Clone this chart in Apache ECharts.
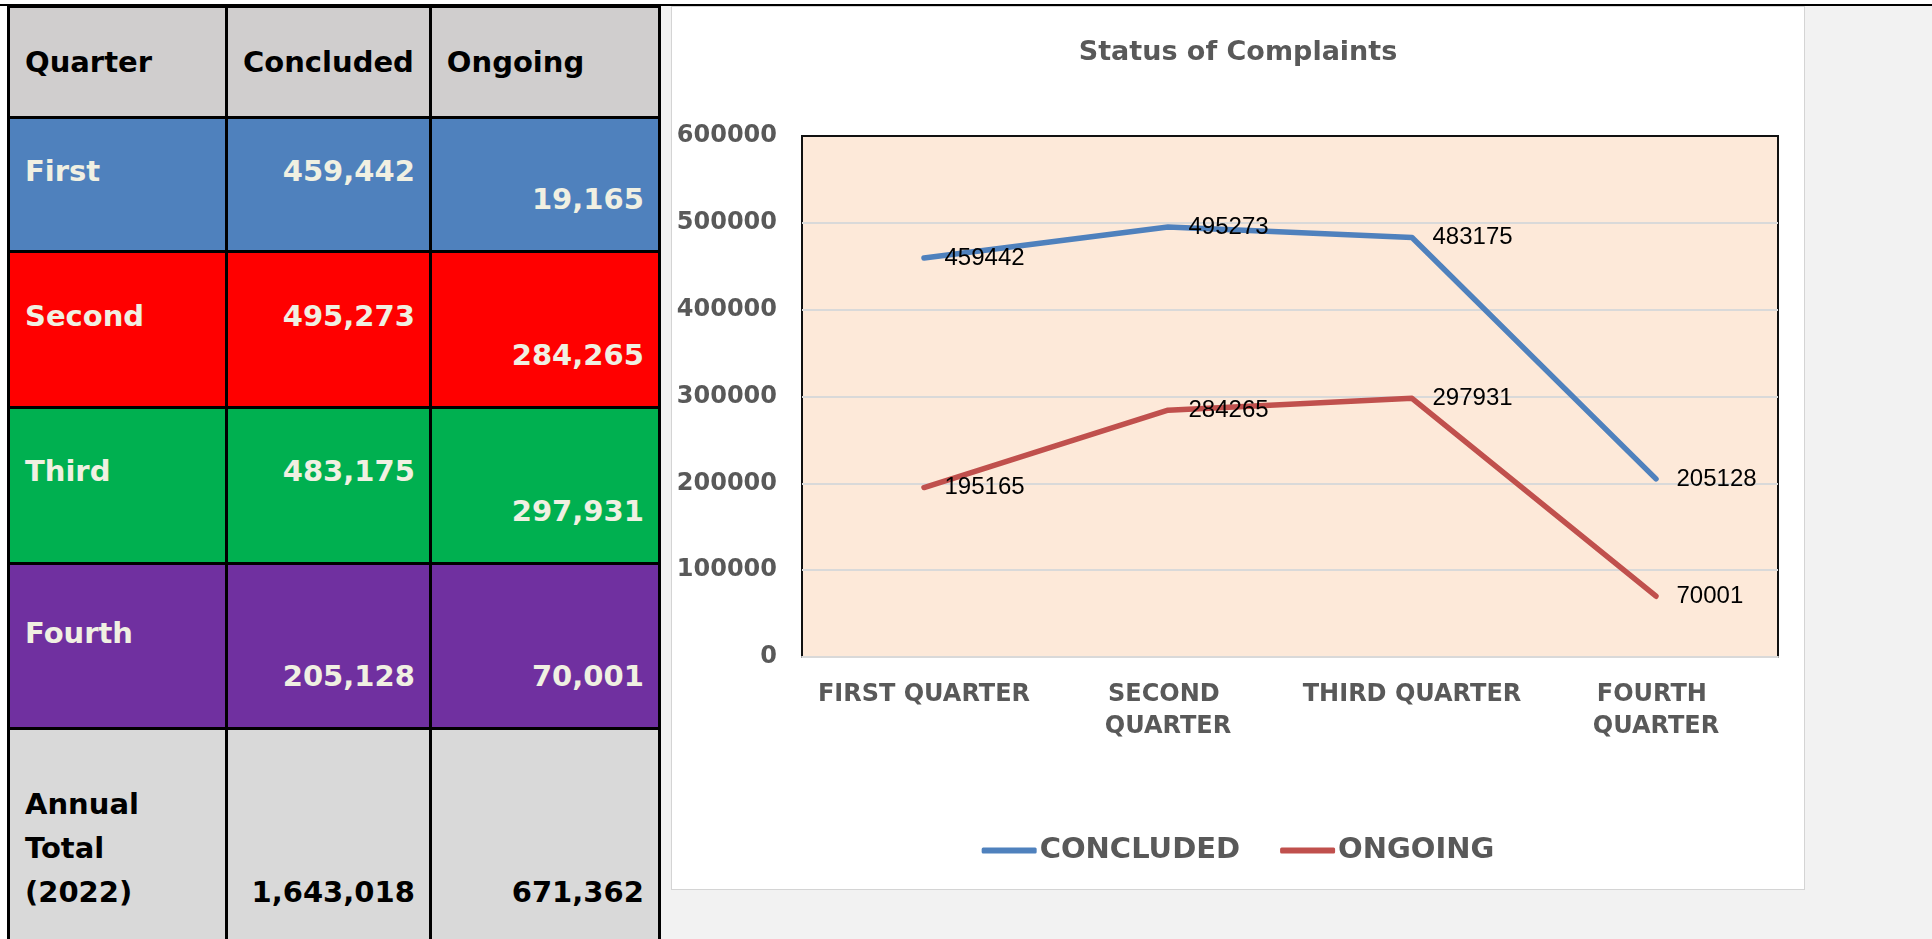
<!DOCTYPE html>
<html>
<head>
<meta charset="utf-8">
<script src="https://cdn.jsdelivr.net/npm/echarts@6/dist/echarts.min.js"></script>
<style>
  html, body { margin:0; padding:0; width:1932px; height:939px; overflow:hidden; background:#ffffff; }
  #grayBg { position:absolute; left:657px; top:5px; width:1275px; height:934px; background:#f2f2f2; }
  #topLine { position:absolute; left:0; top:4px; width:1932px; height:2px; background:#000; }
  #tbl { position:absolute; left:7px; top:5px; border-collapse:collapse; table-layout:fixed;
         font-family:'DejaVu Sans', Verdana, sans-serif; font-weight:bold; font-size:29px; }
  #tbl td { border:3px solid #000; padding:0 15px; line-height:44px; box-sizing:border-box; white-space:pre-line; overflow:hidden; }
  #tbl td.num { text-align:right; padding-right:14px; }
  #tbl tr.hdr td { background:#d0cece; color:#000; vertical-align:middle; height:111px; }
  #tbl tr.q td { color:#f0f0e2; }
  #tbl tr.q0 td { background:#4f81bd; height:134px; }
  #tbl tr.q1 td { background:#ff0000; height:156px; }
  #tbl tr.q2 td { background:#00b050; height:156px; }
  #tbl tr.q3 td { background:#7030a0; height:165px; }
  #tbl tr.tot td { background:#d9d9d9; color:#000; height:214px; vertical-align:bottom; padding-bottom:29px; border-bottom:none; }
  #tbl td.top { vertical-align:top; }
  #tbl td.bot { vertical-align:bottom; padding-bottom:29px; }
  #tbl tr.q0 td.top { padding-top:30px; }
  #tbl tr.q1 td.top { padding-top:41px; }
  #tbl tr.q2 td.top { padding-top:40px; }
  #tbl tr.q3 td.top { padding-top:46px; }
  #chart { position:absolute; left:671px; top:6px; width:1132px; height:882px; background:#fff; border:1px solid #d4d4d4; }
</style>
</head>
<body>
<div id="grayBg"></div>
<div id="topLine"></div>
<table id="tbl">
  <colgroup><col style="width:218px"><col style="width:201px"><col style="width:229px"></colgroup>
  <tbody id="tbody"></tbody>
</table>
<div id="chart"></div>
<script>
// ---- data ----
const headers = ['Quarter', 'Concluded', 'Ongoing'];
const quarterNames = ['First', 'Second', 'Third', 'Fourth'];
const tableConcluded = ['459,442', '495,273', '483,175', '205,128'];
const tableOngoing = ['19,165', '284,265', '297,931', '70,001'];
const totalLabel = 'Annual\nTotal\n(2022)';
const totalConcluded = '1,643,018';
const totalOngoing = '671,362';

const chartTitle = 'Status of Complaints';
const categories = ['FIRST QUARTER', 'SECOND QUARTER', 'THIRD QUARTER', 'FOURTH QUARTER'];
const seriesNames = ['CONCLUDED', 'ONGOING'];
const concluded = [459442, 495273, 483175, 205128];
const ongoing = [195165, 284265, 297931, 70001];
const yMin = 0, yMax = 600000, yStep = 100000;

// ---- table ----
const tbody = document.getElementById('tbody');
function addRow(cls, cells) {
  const tr = document.createElement('tr');
  tr.className = cls;
  cells.forEach(c => {
    const td = document.createElement('td');
    td.textContent = c.text;
    if (c.cls) td.className = c.cls;
    tr.appendChild(td);
  });
  tbody.appendChild(tr);
}
addRow('hdr', headers.map(h => ({ text: h })));
quarterNames.forEach((q, i) => {
  const concCls = i === 3 ? 'num bot' : 'num top';
  addRow('q q' + i, [
    { text: q, cls: 'top' },
    { text: tableConcluded[i], cls: concCls },
    { text: tableOngoing[i], cls: 'num bot' }
  ]);
});
addRow('tot', [
  { text: totalLabel },
  { text: totalConcluded, cls: 'num' },
  { text: totalOngoing, cls: 'num' }
]);

// ---- chart ----
const chart = echarts.init(document.getElementById('chart'), null, { renderer: 'canvas' });
const boldFont = "'DejaVu Sans', Verdana, sans-serif";
const labelStyle = {
  show: true, position: 'right', distance: 20,
  fontFamily: "'Liberation Sans', Arial, sans-serif", fontSize: 24, color: '#000'
};
chart.setOption({
  animation: false,
  title: {
    text: chartTitle, left: 'center', top: 32, padding: 0,
    textStyle: { fontFamily: boldFont, fontSize: 27, fontWeight: 'bold', color: '#595959' }
  },
  legend: {
    data: seriesNames, left: 'center', top: 829, padding: 0,
    itemWidth: 55, itemHeight: 6, itemGap: 40, icon: 'roundRect',
    textStyle: { fontFamily: boldFont, fontSize: 29, fontWeight: 'bold', color: '#595959', padding: [0, 0, 0, -2] }
  },
  grid: {
    left: 130, right: 26, top: 129, bottom: 232, containLabel: false, outerBoundsMode: 'none',
    show: true, backgroundColor: '#fde9d9', borderColor: '#111', borderWidth: 2
  },
  xAxis: {
    type: 'category', data: categories, boundaryGap: true,
    axisTick: { show: false },
    axisLine: { show: true, lineStyle: { color: '#d9d9d9', width: 2 } },
    axisLabel: {
      interval: 0, margin: 22, width: 230, overflow: 'break', lineHeight: 32,
      fontFamily: boldFont, fontSize: 24, fontWeight: 'bold', color: '#595959'
    }
  },
  yAxis: {
    type: 'value', min: yMin, max: yMax, interval: yStep,
    axisLine: { show: false }, axisTick: { show: false },
    splitLine: { showMaxLine: false, lineStyle: { color: '#d9d9d9', width: 2 } },
    axisLabel: {
      margin: 25, fontFamily: boldFont, fontSize: 24, fontWeight: 'bold', color: '#595959',
      formatter: v => String(v)
    }
  },
  series: [
    {
      name: seriesNames[0], type: 'line', data: concluded,
      color: '#4f81bd', symbol: 'circle', symbolSize: 1,
      lineStyle: { width: 5.5, color: '#4f81bd', cap: 'round', join: 'round' },
      label: labelStyle
    },
    {
      name: seriesNames[1], type: 'line', data: ongoing,
      color: '#c0504d', symbol: 'circle', symbolSize: 1,
      lineStyle: { width: 5.5, color: '#c0504d', cap: 'round', join: 'round' },
      label: labelStyle
    }
  ]
});
</script>
</body>
</html>
